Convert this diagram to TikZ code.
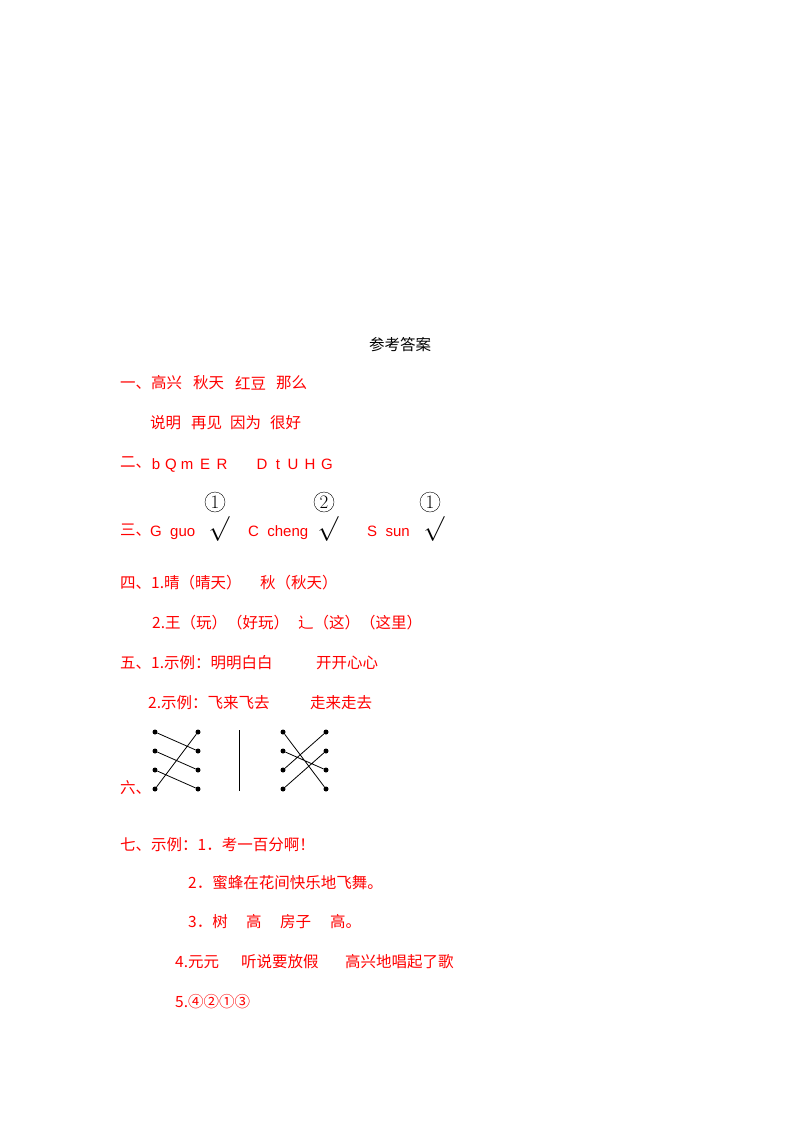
\documentclass[tikz,border=0pt]{standalone}
\usepackage{fontspec}
\setmainfont{Noto Sans CJK SC}
\newfontfamily\lat{Liberation Sans}
\newfontfamily\lmr{Latin Modern Roman}
\begin{document}
\begin{tikzpicture}[x=1pt,y=-1pt,
 t/.style={anchor=west,text=red,font=\fontsize{15.5}{18}\selectfont,inner sep=0pt},
 l/.style={text=red,font=\fontsize{15}{18}\lat\selectfont,inner sep=0pt,anchor=base},
 dot/.style={circle,fill=black,inner sep=0pt,minimum size=5pt},
 cn/.style={circle,draw,inner sep=0pt,minimum size=20pt,font=\fontsize{19}{19}\lmr\selectfont},
 ck/.style={font=\fontsize{28}{28}\selectfont,inner sep=0pt}]
\useasboundingbox (0,0) rectangle (800,1132);
\node[t,text=black,anchor=center] (title) at (400,345) {参考答案};
\node[t] (r1) at (120,383) {一、高兴};
\node[t] (r1b) at (193,383) {秋天};
\node[t] (r1c) at (235,383) {红豆};
\node[t] (r1d) at (276,383) {那么};
\node[t] (s1) at (150,423) {说明};
\node[t] (s2) at (191,423) {再见};
\node[t] (s3) at (230,423) {因为};
\node[t] (s4) at (270,423) {很好};
\node[t] (r2) at (120,463) {二、};
\foreach \c/\x [count=\i] in {b/156,Q/171,m/187,E/205,R/222,D/262,t/278,U/293,H/310,G/327}
 \node[l] (L\i) at (\x,469) {\c};
\node[t] (r3) at (120,530) {三、};
\node[l,anchor=base west] (g1) at (150,536) {G\ \ guo};
\node[l,anchor=base west] (g2) at (248,536) {C\ \ cheng};
\node[l,anchor=base west] (g3) at (367,536) {S\ \ sun};
\node[cn] (c1) at (215,502) {1};
\node[ck] (k1) at (219,529) {$\surd$};
\node[cn] (c2) at (324,502) {2};
\node[ck] (k2) at (328,529) {$\surd$};
\node[cn] (c3) at (430,502) {1};
\node[ck] (k3) at (434,529) {$\surd$};
\node[t] (r4) at (120,583) {四、1.晴（晴天）};
\node[t] (r4x) at (260,583) {秋（秋天）};
\node[t] (r4b) at (152,623) {2.王（玩）（好玩）};
\node[t] (r4y) at (298,623) {辶（这）（这里）};
\node[t] (r5) at (120,663) {五、1.示例：明明白白};
\node[t] (r5x) at (316,663) {开开心心};
\node[t] (r5b) at (148,703) {2.示例：飞来飞去};
\node[t] (r5y) at (310,703) {走来走去};
\node[t] (r6) at (120,788) {六、};
\foreach \i/\y in {1/732,2/751,3/770,4/789}{
 \node[dot] (a\i) at (155,\y) {}; \node[dot] (b\i) at (198,\y) {};
 \node[dot] (c\i) at (283,\y) {}; \node[dot] (d\i) at (326,\y) {};}
\draw[thick] (a1)--(b2) (a2)--(b3) (a3)--(b4) (a4)--(b1);
\draw[thick] (c1)--(d4) (c2)--(d3) (c3)--(d1) (c4)--(d2);
\coordinate (v1) at (239,730); \coordinate (v2) at (239,791);
\draw[thick] (v1)--(v2);
\node[t] (r7) at (120,845) {七、示例：1．考一百分啊！};
\node[t] (r7b) at (188,883) {2．蜜蜂在花间快乐地飞舞。};
\node[t] (r7c) at (188,922) {3．树};
\node[t] (r7c2) at (246,922) {高};
\node[t] (r7c3) at (280,922) {房子};
\node[t] (r7c4) at (330,922) {高。};
\node[t] (r7d) at (175,962) {4.元元};
\node[t] (r7d2) at (241,962) {听说要放假};
\node[t] (r7d3) at (345,962) {高兴地唱起了歌};
\node[t] (r7e) at (175,1002) {5.④②①③};
\end{tikzpicture}
\end{document}
